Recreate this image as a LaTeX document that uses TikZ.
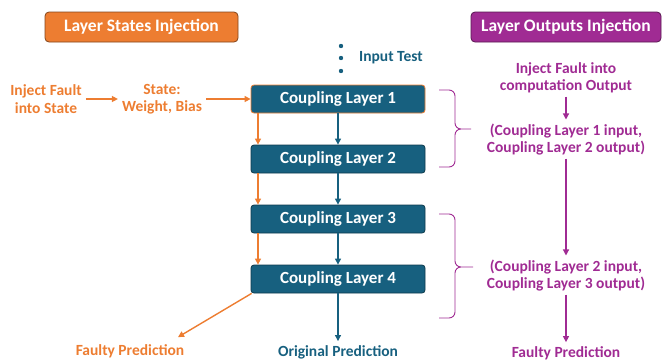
\documentclass[tikz,border=0pt]{standalone}
\usepackage{fontspec}
\setmainfont{Carlito}
\usetikzlibrary{arrows.meta}
\definecolor{orng}{HTML}{ED7D31}
\definecolor{purp}{HTML}{A02B93}
\definecolor{cblue}{HTML}{17607F}
\tikzset{
  hdr/.style={rounded corners=4pt, text=white, font=\bfseries\fontsize{17.5}{19}\selectfont, minimum height=30pt, line width=0.8pt},
  layer/.style={rounded corners=3pt, fill=cblue, draw=cblue!60!black, text=white, font=\bfseries\fontsize{17}{19}\selectfont, minimum width=174pt, minimum height=28pt, line width=0.8pt},
  lbl/.style={font=\bfseries\fontsize{15.5}{17.5}\selectfont, align=center, inner sep=1pt},
  oarr/.style={draw=orng, line width=1.4pt, -{Triangle[length=6pt,width=6pt]}},
  barr/.style={draw=cblue, line width=1.2pt, -{Triangle[length=6pt,width=6pt]}},
  parr/.style={draw=purp, line width=1.2pt, -{Triangle[length=6pt,width=6pt]}},
  brc/.style={draw=purp, line width=0.9pt},
}
\begin{document}
\begin{tikzpicture}[x=1pt,y=-1pt]
\useasboundingbox (0,0) rectangle (662,360);
% headers
\node[hdr, fill=orng, draw=orng!55!black, minimum width=193pt] (lsi) at (141.5,27) {Layer States Injection};
\node[hdr, fill=purp, draw=purp!55!black, minimum width=190pt] (loi) at (566,27) {Layer Outputs Injection};
% input dots
\fill[cblue] (341,46) circle (2.2pt) coordinate (d1);
\fill[cblue] (341,58) circle (2.2pt) coordinate (d2);
\fill[cblue] (341,71) circle (2.2pt) coordinate (d3);
\node[lbl, text=cblue, anchor=west] (inp) at (358,58) {Input Test};
% layers
\node[layer, draw=orng] (cl1) at (338,99) {Coupling Layer 1};
\node[layer] (cl2) at (338,159) {Coupling Layer 2};
\node[layer] (cl3) at (338,219) {Coupling Layer 3};
\node[layer] (cl4) at (338,279) {Coupling Layer 4};
% left texts
\node[lbl, text=orng] (ifs) at (46,99) {Inject Fault\\into State};
\node[lbl, text=orng] (st) at (162,99) {State:\\Weight, Bias};
\node[lbl, text=orng] (fp1) at (130,351) {Faulty Prediction};
\node[lbl, text=cblue] (op) at (338,352) {Original Prediction};
% right texts
\node[lbl, text=purp] (ifc) at (566,78) {Inject Fault into\\computation Output};
\node[lbl, text=purp] (c12) at (566,139.5) {(Coupling Layer 1 input,\\Coupling Layer 2 output)};
\node[lbl, text=purp] (c23) at (566,275.5) {(Coupling Layer 2 input,\\Coupling Layer 3 output)};
\node[lbl, text=purp] (fp2) at (566,353) {Faulty Prediction};
% left arrows
\draw[oarr] ([xshift=3pt]ifs.east) -- ([xshift=-3pt]st.west);
\draw[oarr] ([xshift=3pt]st.east) -- (cl1.west);
\foreach \a/\b in {cl1/cl2, cl2/cl3, cl3/cl4}{
  \draw[oarr] ([xshift=-80pt]\a.south) -- ([xshift=-80pt]\b.north);
}
\draw[oarr] ([xshift=1pt]cl4.south west) -- ([xshift=48pt,yshift=6pt]fp1.north);
% blue arrows
\foreach \a/\b in {cl1/cl2, cl2/cl3, cl3/cl4}{
  \draw[barr] (\a.south) -- (\b.north);
}
\draw[barr] (cl4.south) -- ([yshift=3pt]op.north);
% purple arrows
\draw[parr] ([yshift=-2pt]ifc.south) -- ([yshift=3pt]c12.north);
\draw[parr] ([yshift=-2pt]c12.south) -- ([yshift=3pt]c23.north);
\draw[parr] ([yshift=-2pt]c23.south) -- ([yshift=3pt]fp2.north);
% braces
\draw[brc] (439,90) -- (449,90) to[out=0,in=90] (455,96) -- (455,123) to[out=-90,in=180] (461,129) -- (471,129)
  (461,129) to[out=180,in=90] (455,135) -- (455,161) to[out=-90,in=0] (449,167) -- (439,167);
\draw[brc] (439,214) -- (449,214) to[out=0,in=90] (455,220) -- (455,261) to[out=-90,in=180] (461,267) -- (473,267)
  (461,267) to[out=180,in=90] (455,273) -- (455,312) to[out=-90,in=0] (449,318) -- (439,318);
\end{tikzpicture}
\end{document}
